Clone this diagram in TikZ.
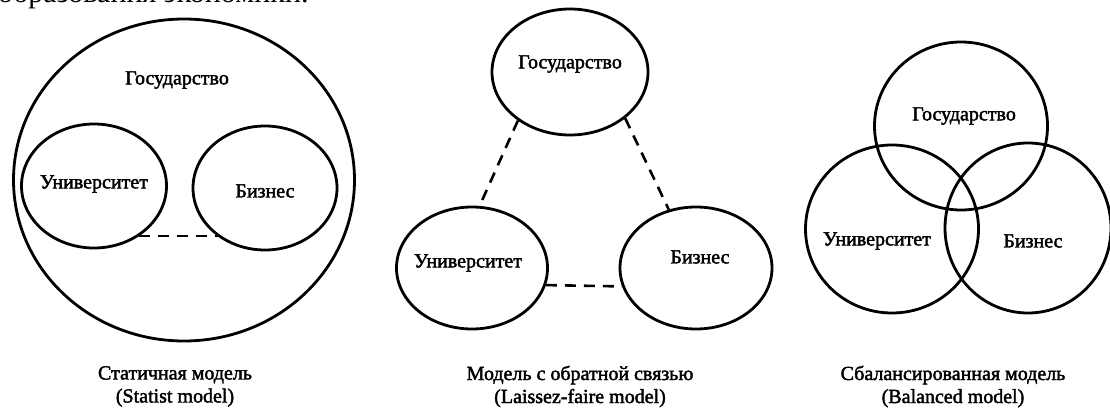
\documentclass[tikz,border=0pt]{standalone}
\usepackage{fontspec}
\setmainfont{Liberation Serif}
\newfontfamily\heavyserif{Liberation Serif}[FakeBold=2]
\usetikzlibrary{shapes.geometric}
\begin{document}
\begin{tikzpicture}[x=1pt,y=-1pt,
  ell/.style={draw, ellipse, line width=2.8pt, inner sep=0pt},
  lbl/.style={font=\heavyserif\fontsize{20}{22}\selectfont, inner sep=0pt},
  captxt/.style={font=\heavyserif\fontsize{20}{23}\selectfont, align=center, inner sep=0pt},
  link/.style={line width=2.6pt, dash pattern=on 11pt off 8pt}]
\useasboundingbox (0,0) rectangle (1110,409);
% cut-off line of text above
\node[anchor=base west, font=\fontsize{30}{30}\selectfont, inner sep=0pt] (top) at (-2,3) {образования экономики.};
% Panel 1
\node[ell, minimum width=341pt, minimum height=322pt] (g1) at (184,180) {};
\node[lbl] (g1t) at (177,80) {Государство};
\node[ell, minimum width=145pt, minimum height=124pt] (u1) at (94,186) {};
\node[lbl] (u1t) at (94,184) {Университет};
\node[ell, minimum width=144pt, minimum height=124pt] (b1) at (265,188) {};
\node[lbl] (b1t) at (265,191) {Бизнес};
\draw[link] (u1.-48) -- (u1.-48 -| b1.-132);
\node[captxt] (c1) at (175,386.5) {Статичная модель\\(Statist model)};
% Panel 2
\node[ell, minimum width=156pt, minimum height=126pt] (g2) at (570,72) {};
\node[lbl] (g2t) at (570,64) {Государство};
\node[ell, minimum width=151pt, minimum height=122pt] (u2) at (472,268) {};
\node[lbl] (u2t) at (468,263) {Университет};
\node[ell, minimum width=152pt, minimum height=122pt] (b2) at (696,268) {};
\node[lbl] (b2t) at (700,257) {Бизнес};
\draw[link] (g2.-137) -- (u2.83);
\draw[link] (g2.-40) -- (b2.115);
\draw[link] (u2.-13) -- (b2.194);
\node[captxt] (c2) at (580,386.5) {Модель с обратной связью\\(Laissez-faire model)};
% Panel 3
\node[ell, minimum width=173pt, minimum height=168pt] (g3) at (961,126) {};
\node[lbl] (g3t) at (964,116) {Государство};
\node[ell, minimum width=173pt, minimum height=168pt] (u3) at (892,229) {};
\node[lbl] (u3t) at (877,241) {Университет};
\node[ell, minimum width=166pt, minimum height=170pt] (b3) at (1028,228) {};
\node[lbl] (b3t) at (1033,241) {Бизнес};
\node[captxt] (c3) at (953,386.5) {Сбалансированная модель\\(Balanced model)};
\end{tikzpicture}
\end{document}
